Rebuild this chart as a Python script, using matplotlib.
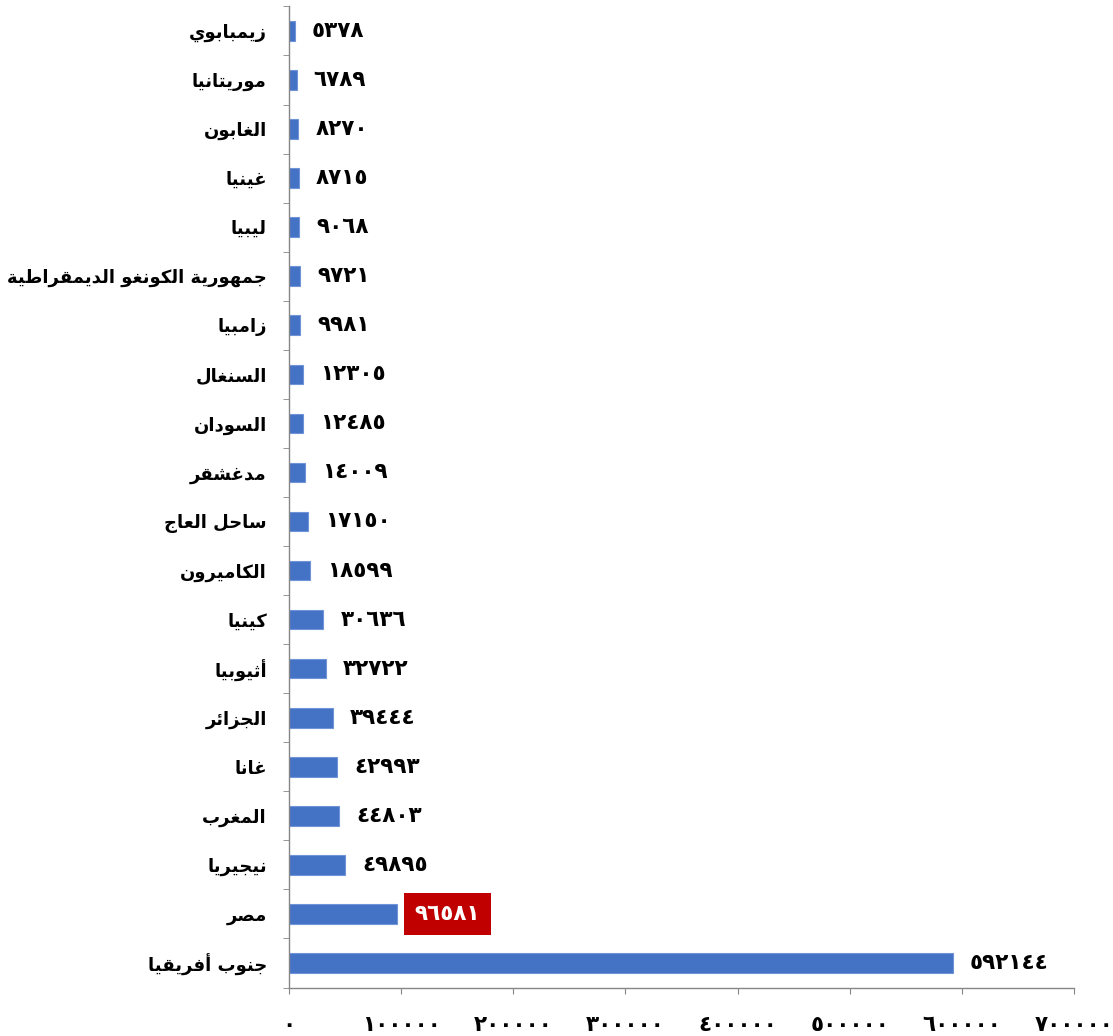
import numpy as np
import matplotlib
matplotlib.use("Agg")
import matplotlib.pyplot as plt

countries = ["زيمبابوي", "موريتانيا", "الغابون", "غينيا", "ليبيا",
             "جمهورية الكونغو الديمقراطية", "زامبيا", "السنغال", "السودان", "مدغشقر",
             "ساحل العاج", "الكاميرون", "كينيا", "أثيوبيا", "الجزائر",
             "غانا", "المغرب", "نيجيريا", "مصر", "جنوب أفريقيا"]
values = [5378, 6789, 8270, 8715, 9068, 9721, 9981, 12305, 12485, 14009,
          17150, 18599, 30636, 32722, 39444, 42993, 44803, 49895, 96581, 592144]
xticks = [0, 100000, 200000, 300000, 400000, 500000, 600000, 700000]
highlight = "مصر"

# matplotlib does no arabic shaping, so map letters to presentation forms by hand
RIGHT = {'آ': 0xFE81, 'أ': 0xFE83, 'ؤ': 0xFE85, 'إ': 0xFE87, 'ا': 0xFE8D, 'ة': 0xFE93,
         'د': 0xFEA9, 'ذ': 0xFEAB, 'ر': 0xFEAD, 'ز': 0xFEAF, 'و': 0xFEED, 'ى': 0xFEEF}
DUAL = {'ئ': 0xFE89, 'ب': 0xFE8F, 'ت': 0xFE95, 'ث': 0xFE99, 'ج': 0xFE9D, 'ح': 0xFEA1,
        'خ': 0xFEA5, 'س': 0xFEB1, 'ش': 0xFEB5, 'ص': 0xFEB9, 'ض': 0xFEBD, 'ط': 0xFEC1,
        'ظ': 0xFEC5, 'ع': 0xFEC9, 'غ': 0xFECD, 'ف': 0xFED1, 'ق': 0xFED5, 'ك': 0xFED9,
        'ل': 0xFEDD, 'م': 0xFEE1, 'ن': 0xFEE5, 'ه': 0xFEE9, 'ي': 0xFEF1}
LAM_ALEF = {'آ': 0xFEF5, 'أ': 0xFEF7, 'إ': 0xFEF9, 'ا': 0xFEFB}


def shape(text):
    out = []
    i = 0
    n = len(text)
    while i < n:
        c = text[i]
        joins_prev = i > 0 and text[i - 1] in DUAL
        if c == 'ل' and i + 1 < n and text[i + 1] in LAM_ALEF:
            out.append(chr(LAM_ALEF[text[i + 1]] + int(joins_prev)))
            i += 2
            continue
        if c in DUAL:
            nxt = text[i + 1] if i + 1 < n else ''
            joins_next = nxt in DUAL or nxt in RIGHT
            off = {(False, False): 0, (True, False): 1, (False, True): 2, (True, True): 3}[(joins_prev, joins_next)]
            out.append(chr(DUAL[c] + off))
        elif c in RIGHT:
            out.append(chr(RIGHT[c] + int(joins_prev)))
        else:
            out.append(c)
        i += 1
    return ''.join(reversed(out))


ar_digits = str.maketrans('0123456789', '٠١٢٣٤٥٦٧٨٩')


def ar_num(v):
    return str(v).translate(ar_digits)


plt.rcParams['font.family'] = ['DejaVu Sans']
plt.rcParams['font.weight'] = 'bold'

fig = plt.figure(figsize=(11.13, 10.36), dpi=100)
ax = fig.add_axes([0.2597, 0.0468, 0.7053, 0.947])

y = np.arange(len(countries))
ax.barh(y, values, height=0.4, color='#4472C4', edgecolor='#6F95D8', linewidth=0.8)

for i, v in enumerate(values):
    if countries[i] == highlight:
        ax.annotate(ar_num(v), (v, i), xytext=(17, 0), textcoords='offset pixels',
                    ha='left', va='center', fontsize=15.5, fontweight='bold', color='white',
                    bbox=dict(boxstyle='square,pad=0.5', fc='#C00000', ec='none'))
    else:
        ax.annotate(ar_num(v), (v, i), xytext=(17, 0), textcoords='offset pixels',
                    ha='left', va='center', fontsize=15.5, fontweight='bold', color='black')

ax.set_ylim(len(countries) - 0.5, -0.5)
ax.set_xlim(xticks[0], xticks[-1])

ax.set_yticks(y)
ax.set_yticklabels([shape(c) for c in countries], fontsize=13, fontweight='bold')
ax.set_yticks(np.arange(len(countries) + 1) - 0.5, minor=True)
ax.tick_params(axis='y', which='major', length=0, pad=16)
ax.tick_params(axis='y', which='minor', length=4.5, color='#868686', direction='out')

ax.set_xticks(xticks)
ax.set_xticklabels([ar_num(t) for t in xticks], fontsize=15.5, fontweight='bold')
ax.tick_params(axis='x', length=4.5, color='#868686', direction='out', pad=15)

for s in ['top', 'right']:
    ax.spines[s].set_visible(False)
for s in ['left', 'bottom']:
    ax.spines[s].set_color('#868686')
    ax.spines[s].set_linewidth(1)

fig.savefig('out.png', dpi=100)
